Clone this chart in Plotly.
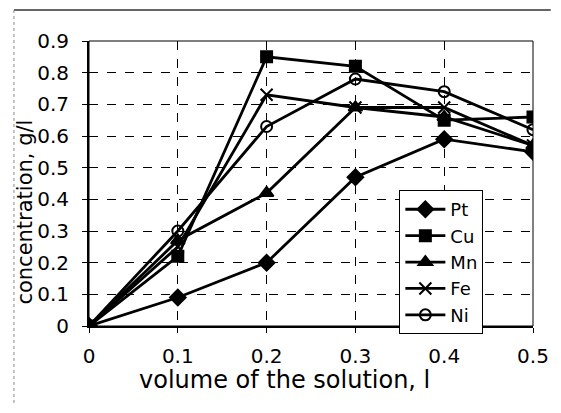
import plotly.graph_objects as go

volume = [0, 0.1, 0.2, 0.3, 0.4, 0.5]
pt = [0, 0.09, 0.20, 0.47, 0.59, 0.55]
cu = [0, 0.22, 0.85, 0.82, 0.65, 0.66]
mn = [0, 0.27, 0.42, 0.69, 0.66, 0.57]
fe = [0, 0.25, 0.73, 0.69, 0.69, 0.57]
ni = [0, 0.30, 0.63, 0.78, 0.74, 0.62]

series = [
    ("Pt", pt, "diamond", 12),
    ("Cu", cu, "square", 11),
    ("Mn", mn, "triangle-up", 12),
    ("Fe", fe, "x-thin-open", 12),
    ("Ni", ni, "circle-open", 11),
]

x_ticks = [0, 0.1, 0.2, 0.3, 0.4, 0.5]
y_ticks = [0, 0.1, 0.2, 0.3, 0.4, 0.5, 0.6, 0.7, 0.8, 0.9]
x_title = "volume of the solution, l"
y_title = "concentration, g/l"

FONT = "DejaVu Sans, Liberation Sans, Arial"

fig = go.Figure()
for name, vals, sym, size in series:
    fig.add_trace(go.Scatter(
        x=volume, y=vals, name=name, mode="lines+markers",
        line=dict(color="black", width=2.8),
        marker=dict(symbol=sym, size=size, color="black",
                    line=dict(color="black", width=2)),
    ))

fig.update_layout(
    width=553, height=397,
    margin=dict(l=81, r=17, t=33, b=79),
    paper_bgcolor="white", plot_bgcolor="white",
    font=dict(family=FONT, size=20, color="black"),
    showlegend=True,
    legend=dict(x=0.699, y=0.477, xanchor="left", yanchor="top",
                bgcolor="white", bordercolor="black", borderwidth=1,
                font=dict(size=18), tracegroupgap=0, itemwidth=40),
)
fig.update_xaxes(
    range=[0, 0.5], tickvals=x_ticks, ticktext=[str(v) for v in x_ticks],
    tickfont=dict(size=20),
    showgrid=True, gridcolor="black", griddash="dash", gridwidth=1,
    showline=True, linecolor="black", linewidth=2, mirror=False,
    ticks="outside", ticklen=5, tickcolor="black", ticklabelstandoff=6,
    ticklabeloverflow="allow",
    zeroline=False,
)
fig.update_yaxes(
    range=[0, 0.9], tickvals=y_ticks, ticktext=[str(v) for v in y_ticks],
    tickfont=dict(size=20),
    showgrid=True, gridcolor="black", griddash="dash", gridwidth=1,
    showline=True, linecolor="black", linewidth=2, mirror=False,
    ticks="outside", ticklen=5, tickcolor="black", ticklabelstandoff=9,
    ticklabeloverflow="allow",
    zeroline=False,
)
fig.add_annotation(text=x_title, xref="paper", yref="paper", x=0.44, y=-0.19,
                   xanchor="center", yanchor="middle", showarrow=False,
                   font=dict(size=24))
fig.add_annotation(text=y_title, xref="paper", yref="paper", x=-0.145, y=0.40,
                   xanchor="center", yanchor="middle", showarrow=False,
                   textangle=-90, font=dict(size=21))
# top and right frame of plot area
fig.add_shape(type="rect", xref="paper", yref="paper", x0=0, y0=0, x1=1, y1=1,
              line=dict(color="black", width=1), layer="below")
# outer chart border (top solid, left dotted)
fig.add_shape(type="line", xref="paper", yref="paper",
              x0=-0.169, y0=1.109, x1=1.04, y1=1.109,
              line=dict(color="#333", width=1.5))
fig.add_shape(type="line", xref="paper", yref="paper",
              x0=-0.169, y0=1.109, x1=-0.169, y1=-0.32,
              line=dict(color="#888", width=1, dash="dot"))

fig.write_html("out.html")
